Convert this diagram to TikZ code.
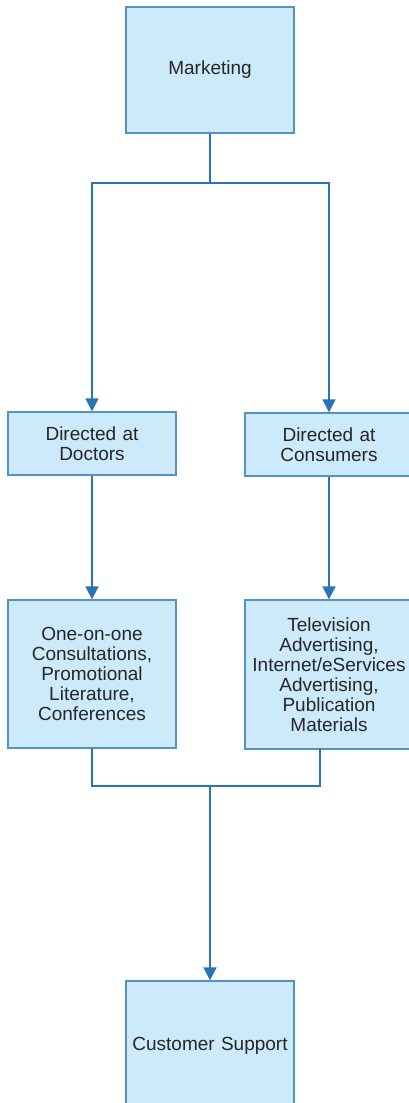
\documentclass[tikz,border=0pt]{standalone}
\usepackage{fontspec}
\setmainfont{Liberation Sans}
\usetikzlibrary{arrows.meta}

\definecolor{boxfill}{RGB}{204,234,250}
\definecolor{boxline}{RGB}{84,146,196}
\definecolor{linkblue}{RGB}{40,116,182}
\definecolor{txtgray}{RGB}{38,38,38}

\begin{document}
\begin{tikzpicture}[x=1pt,y=-1pt,
    unit/.style={draw=boxline,fill=boxfill,line width=1.3pt,rectangle,minimum width=168pt,
      text width=164pt,align=center,inner sep=0pt,text=txtgray,
      font=\fontsize{19}{20}\selectfont},
    link/.style={draw=linkblue,line width=1.8pt},
    flow/.style={link,-{Triangle[width=13pt,length=13pt]}}]

    \useasboundingbox (0,0) rectangle (409,1103);
    \clip (0,0) rectangle (409,1103);

    \node[unit,minimum height=126pt] at (210,70) (mkt) {Marketing};
    \node[unit,minimum height=63pt] at (92,443.5) (doc) {Directed at\\Doctors};
    \node[unit,minimum height=63pt] at (329,444.5) (con) {Directed at\\Consumers};
    \node[unit,minimum height=148pt] at (92,674) (one) {One-on-one\\Consultations,\\Promotional\\Literature,\\Conferences};
    \node[unit,minimum height=149pt] at (329,674.5) (tv) {Television\\Advertising,\\Internet/eServices\\Advertising,\\Publication\\Materials};
    \node[unit,minimum height=130pt] at (210,1046) (cs) {Customer Support};

    \coordinate (split) at (210,183);
    \coordinate (join) at (210,786);
    \coordinate (tvout) at (320,749);

    \draw[flow] (mkt.south) -- (split) -| (doc.north);
    \draw[flow] (split) -| (con.north);
    \draw[flow] (doc.south) -- (one.north);
    \draw[flow] (con.south) -- (tv.north);
    \draw[link] (one.south) |- (join) -| (tvout);
    \draw[flow] (join) -- (cs.north);

\end{tikzpicture}
\end{document}
